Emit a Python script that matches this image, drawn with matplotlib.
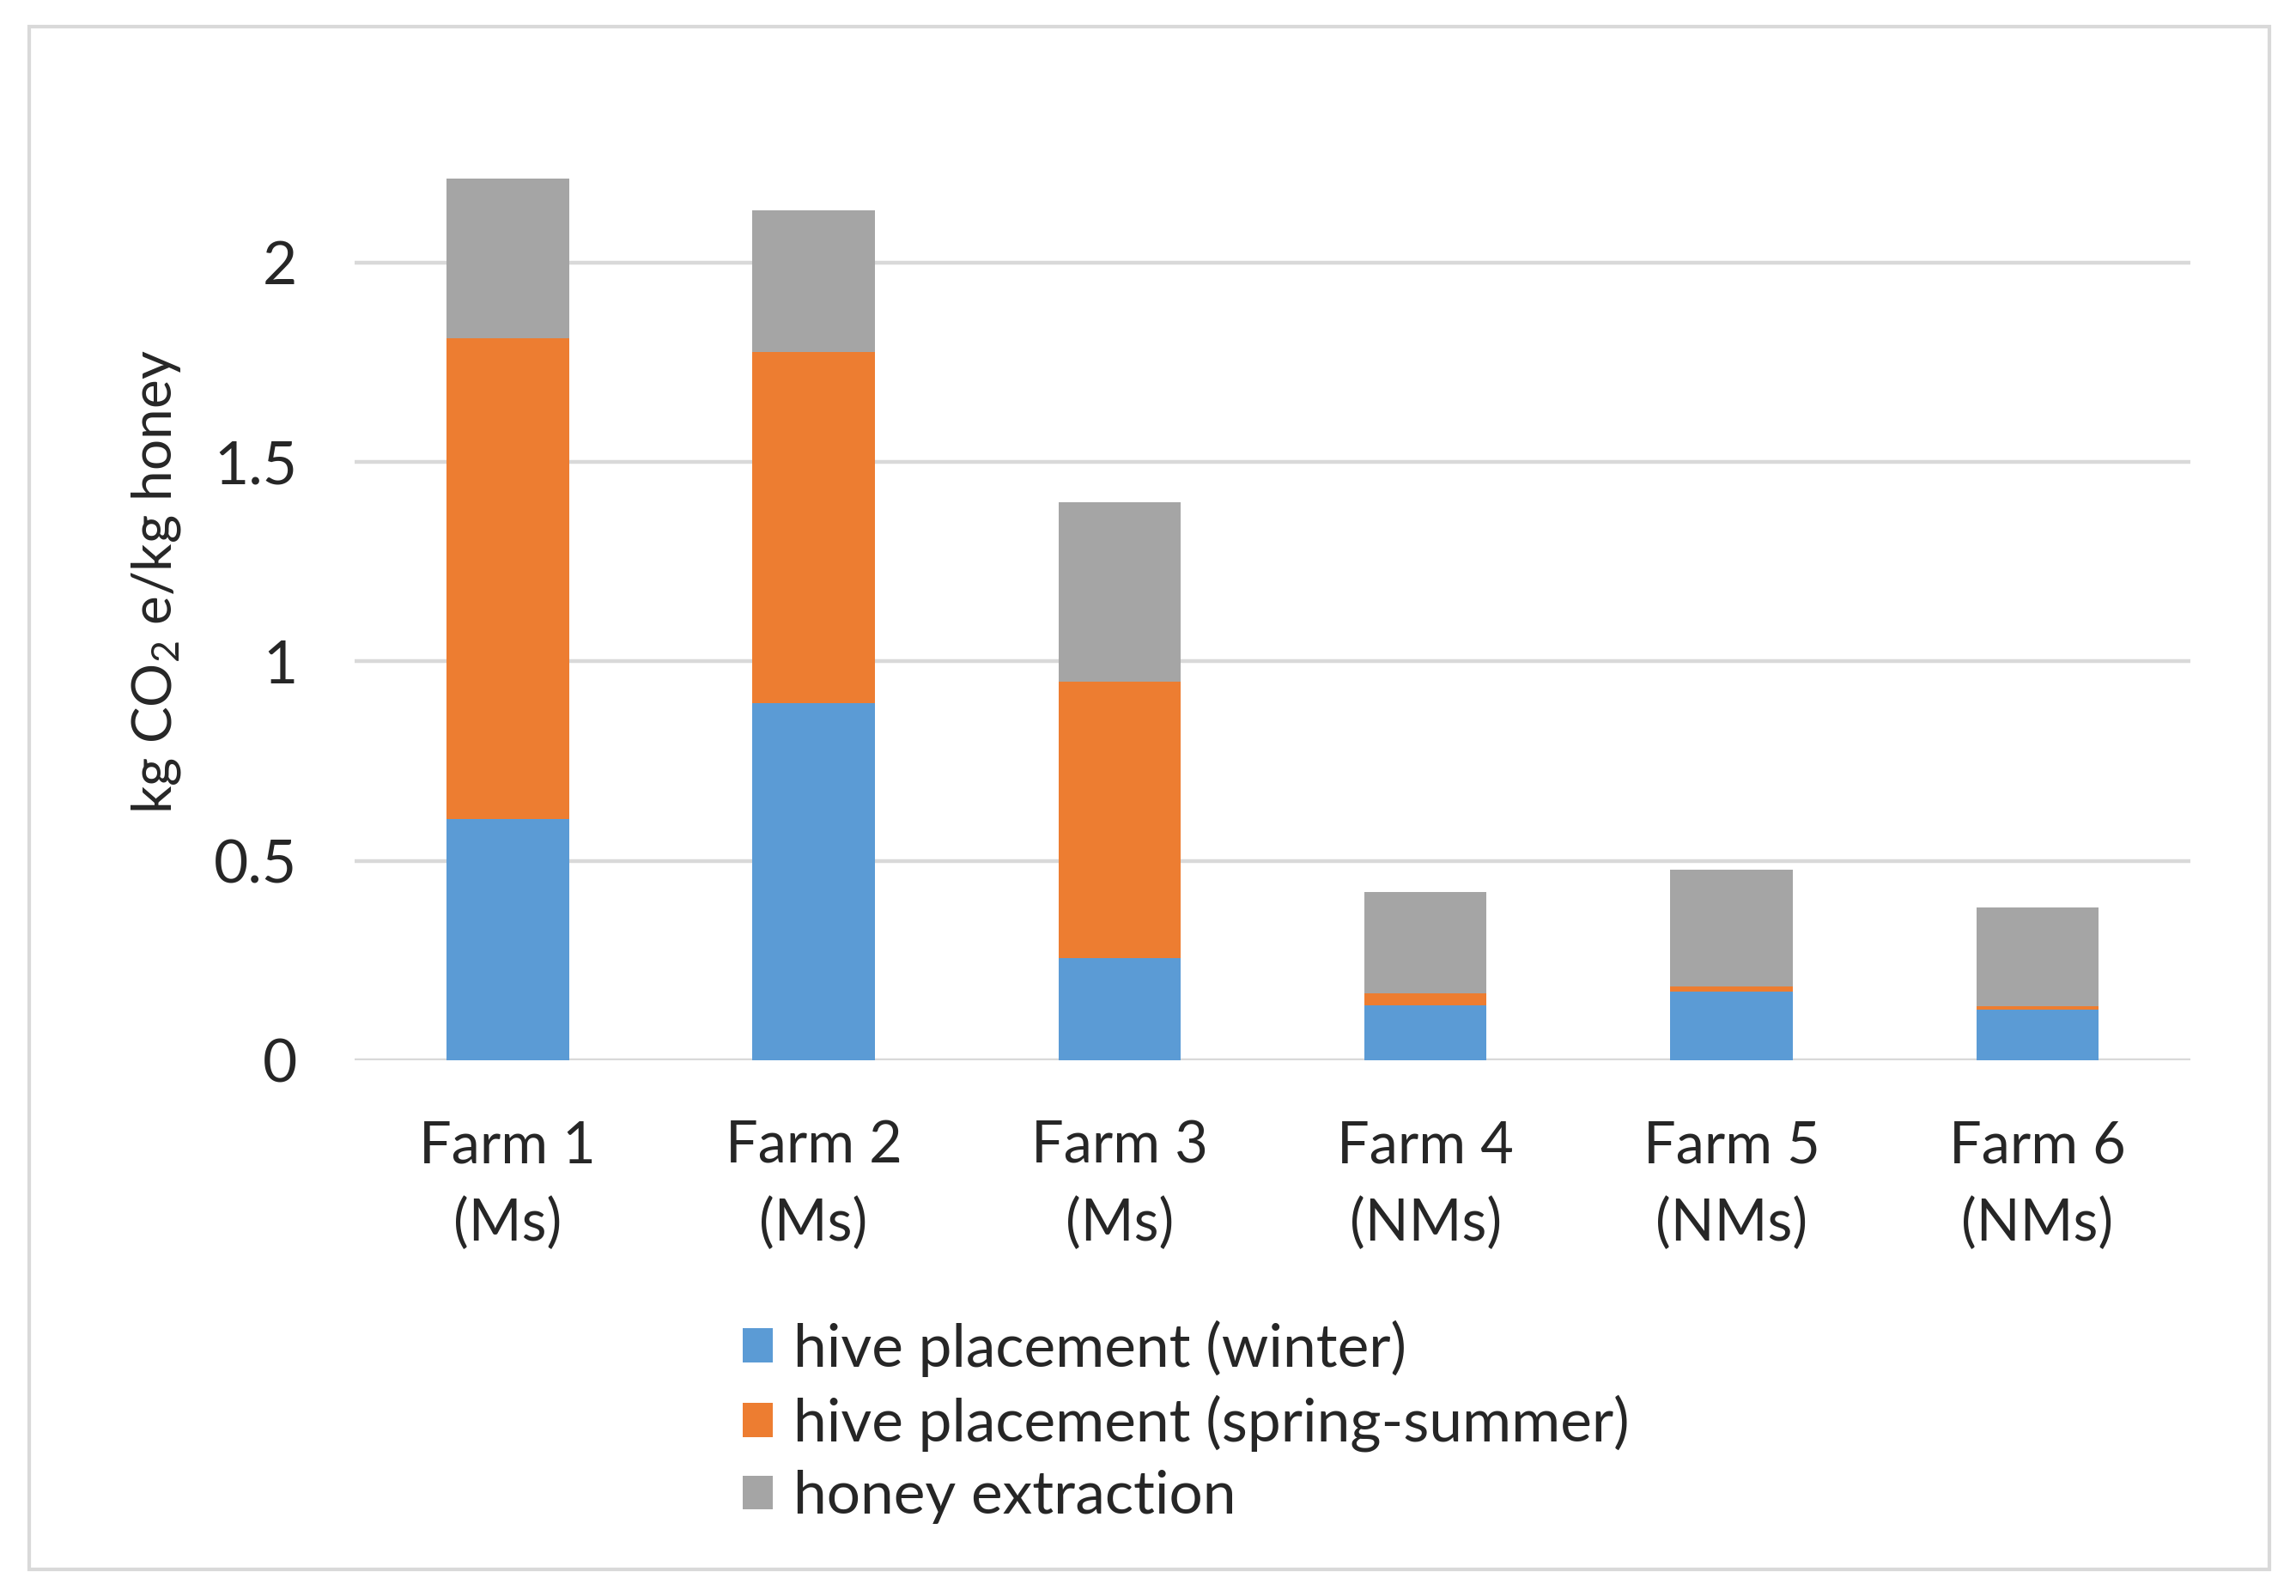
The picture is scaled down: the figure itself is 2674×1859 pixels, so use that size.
import matplotlib
matplotlib.use("Agg")
import matplotlib.pyplot as plt
from matplotlib.patches import Rectangle, Patch

farms = ["Farm 1\n(Ms)", "Farm 2\n(Ms)", "Farm 3\n(Ms)", "Farm 4\n(NMs)", "Farm 5\n(NMs)", "Farm 6\n(NMs)"]
winter = [0.605, 0.895, 0.257, 0.137, 0.172, 0.126]
spring = [1.205, 0.881, 0.692, 0.031, 0.012, 0.010]
honey = [0.400, 0.354, 0.451, 0.253, 0.294, 0.246]
series_names = ["hive placement (winter)", "hive placement (spring-summer)", "honey extraction"]
colors = ["#5B9BD5", "#ED7D31", "#A5A5A5"]
yticks = [0, 0.5, 1, 1.5, 2]
yticklabels = ["0", "0.5", "1", "1.5", "2"]

plt.rcParams["font.family"] = ["Lato", "DejaVu Sans"]
plt.rcParams["mathtext.fontset"] = "custom"
plt.rcParams["mathtext.rm"] = "Lato"
plt.rcParams["mathtext.it"] = "Lato:italic"

fig = plt.figure(figsize=(13.37, 9.295), dpi=200)
fig.patches.append(Rectangle((34/2674, 1-1828/1859), (2643-34)/2674, (1828-31)/1859,
                             transform=fig.transFigure, fill=False, edgecolor="#D9D9D9", linewidth=1.5))
ax = fig.add_axes([0.1545, 0.3357, 0.7995, 0.5998])

x = list(range(len(farms)))
bottom2 = [a + b for a, b in zip(winter, spring)]
ax.bar(x, winter, width=0.4, color=colors[0], zorder=3)
ax.bar(x, spring, width=0.4, bottom=winter, color=colors[1], zorder=3)
ax.bar(x, honey, width=0.4, bottom=bottom2, color=colors[2], zorder=3)

ax.set_xlim(-0.5, 5.5)
ax.set_ylim(0, 2.4)
ax.set_yticks(yticks)
ax.set_yticklabels(yticklabels)
ax.set_xticks(x)
ax.set_xticklabels(farms, linespacing=1.55)
for s in ax.spines.values():
    s.set_visible(False)
ax.yaxis.grid(True, color="#D9D9D9", linewidth=1.6, zorder=0)
ax.tick_params(axis="both", length=0, labelsize=25, colors="#262626")
ax.tick_params(axis="x", labelsize=24, pad=25)
ax.tick_params(axis="y", pad=24)
ax.set_ylabel("kg CO$_2$ e/kg honey", fontsize=23, color="#262626", labelpad=13)

handles = [Patch(facecolor=c) for c in colors]
fig.legend(handles, series_names, loc="upper left", bbox_to_anchor=(0.3132, 0.188),
           frameon=False, fontsize=25, handlelength=0.5, handleheight=0.5,
           handletextpad=0.35, labelspacing=0.3, labelcolor="#262626", borderaxespad=0)

fig.savefig("out.png", dpi=200, facecolor="white")
